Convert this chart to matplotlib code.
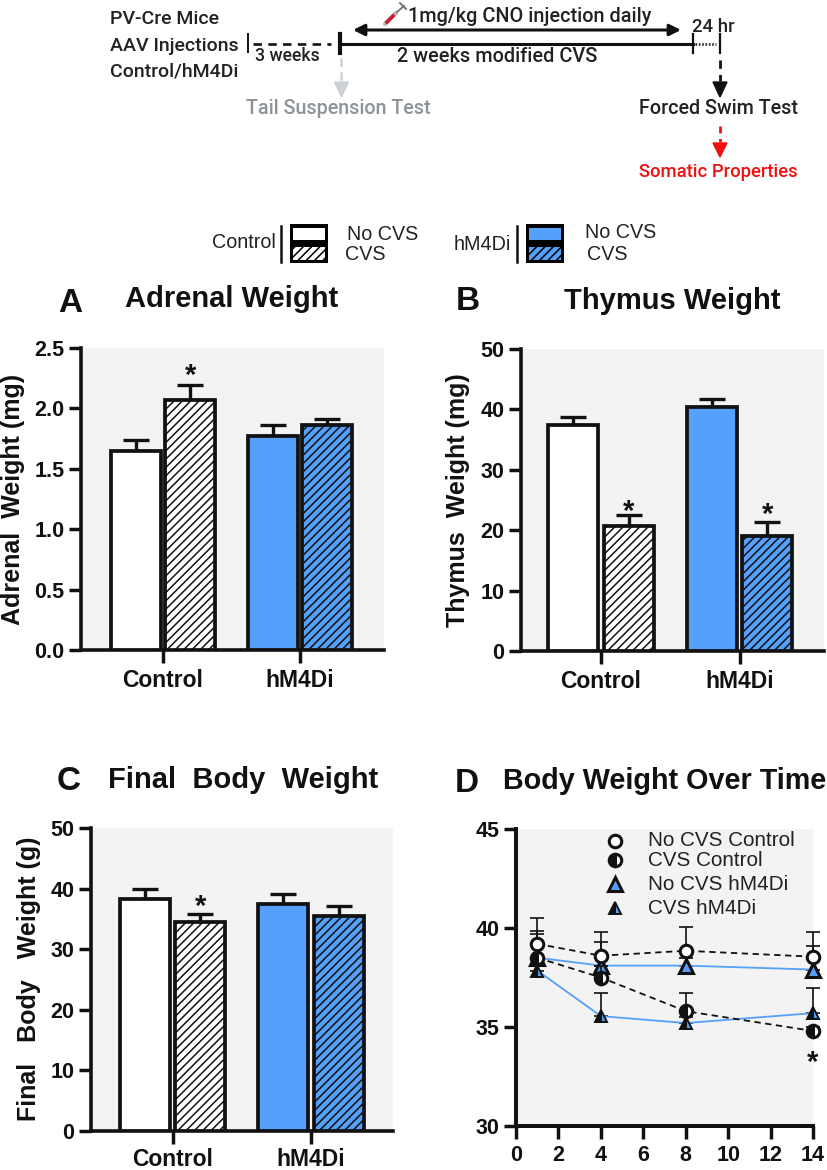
import matplotlib
matplotlib.use("Agg")
import matplotlib.pyplot as plt
from matplotlib.patches import Rectangle, Polygon

plt.rcParams['font.family'] = ['Liberation Sans', 'DejaVu Sans']
plt.rcParams['hatch.linewidth'] = 1.1

W, H = 828, 1170
BLUE = '#55A0FB'
BG = '#F3F3F3'
INK = '#111111'
HATCH = '////'

groups = ['Control', 'hM4Di']
adrenal_vals = [1.65, 2.07, 1.77, 1.86]
adrenal_err = [0.09, 0.12, 0.09, 0.05]
thymus_vals = [37.4, 20.7, 40.4, 19.0]
thymus_err = [1.4, 1.8, 1.3, 2.4]
final_vals = [38.3, 34.5, 37.5, 35.4]
final_err = [1.6, 1.3, 1.6, 1.65]

days = [1, 4, 8, 14]
nocvs_ctrl = [39.2, 38.6, 38.85, 38.55]
nocvs_ctrl_err = [1.3, 1.2, 1.2, 1.25]
cvs_ctrl = [38.5, 37.5, 35.8, 34.8]
cvs_ctrl_err = [1.35, 0.6, 0.9, 0.2]
nocvs_hm = [38.5, 38.1, 38.1, 37.9]
nocvs_hm_err = [1.2, 1.2, 0.4, 1.2]
cvs_hm = [37.85, 35.55, 35.2, 35.7]
cvs_hm_err = [0.3, 1.15, 0.3, 1.25]

fig = plt.figure(figsize=(W / 100, H / 100), dpi=100, facecolor='white')


def axpx(l, t, r, b):
    return fig.add_axes([l / W, 1 - b / H, (r - l) / W, (b - t) / H])


ov = fig.add_axes([0, 0, 1, 1], zorder=10)
ov.set_xlim(0, W)
ov.set_ylim(H, 0)
ov.axis('off')
ov.patch.set_alpha(0)


def style(ax):
    ax.set_facecolor(BG)
    for s in ('top', 'right'):
        ax.spines[s].set_visible(False)
    for s in ('left', 'bottom'):
        ax.spines[s].set_linewidth(2.6)
        ax.spines[s].set_color(INK)
    ax.tick_params(axis='both', length=9, width=2.5, color=INK, pad=3)
    for t in ax.get_xticklabels() + ax.get_yticklabels():
        t.set_fontweight('bold')
        t.set_fontsize(15.5)
        t.set_color(INK)


def bars(box, vals, errs, ymax, step, x0, dx, width, off, fmt, star_i, star_y, xpad):
    ax = axpx(*box)
    l, t, r, b = box
    ax.set_xlim((l - x0) / dx, (r - x0) / dx)
    ax.set_ylim(0, ymax)
    pos = [0 - off, 0 + off, 1 - off, 1 + off]
    faces = ['white', 'white', BLUE, BLUE]
    hatches = [None, HATCH, None, HATCH]
    for p, v, e, fc, h in zip(pos, vals, errs, faces, hatches):
        ax.bar(p, v, width, facecolor=fc, edgecolor=INK, linewidth=2.7, hatch=h, zorder=3)
        ax.errorbar(p, v, yerr=[[0], [e]], color=INK, elinewidth=2.4, capsize=9.5,
                    capthick=2.4, zorder=2, fmt='none')
    ax.set_xticks([0, 1])
    ax.set_xticklabels(groups)
    n = int(round(ymax / step)) + 1
    ax.set_yticks([i * step for i in range(n)])
    ax.set_yticklabels([fmt.format(i * step) for i in range(n)])
    style(ax)
    ax.tick_params(axis='x', pad=xpad)
    for t in ax.get_xticklabels():
        t.set_fontsize(16.5)
    for i, y in zip(star_i, star_y):
        ax.text(pos[i], y, '*', ha='center', va='center', fontsize=21, fontweight='bold', color=INK)
    return ax


bars((81, 348, 384, 650), adrenal_vals, adrenal_err, 2.5, 0.5, 163, 137, 0.365, 0.2, '{:.1f}', [1], [2.27], 4.5)
bars((521, 349, 824, 651), thymus_vals, thymus_err, 50, 10, 601, 138.5, 0.36, 0.2, '{:.0f}', [1, 3], [23.0, 22.5], 4.5)
bars((91, 828, 393, 1131), final_vals, final_err, 50, 10, 172.5, 138.5, 0.36, 0.2, '{:.0f}', [1], [37.0], 3.5)

# Panel D
axd = axpx(516, 829, 813, 1126)
axd.set_xlim(0, 14)
axd.set_ylim(30, 45)
axd.set_xticks(range(0, 15, 2))
axd.set_yticks([30, 35, 40, 45])
style(axd)
axd.tick_params(axis='x', pad=5)
for s in ('left', 'bottom'):
    axd.spines[s].set_linewidth(2.9)

series = [
    (nocvs_hm, nocvs_hm_err, '-', BLUE, '^', dict(markerfacecolor=BLUE, markeredgecolor=INK, ms=9.5, mew=2.2), 2),
    (cvs_hm, cvs_hm_err, '-', BLUE, '^', dict(markerfacecolor=BLUE, fillstyle='right', markerfacecoloralt=INK, markeredgecolor=INK, ms=9, mew=1.4), 3),
    (cvs_ctrl, cvs_ctrl_err, '--', INK, 'o', dict(markerfacecolor=INK, fillstyle='left', markerfacecoloralt='white', markeredgecolor=INK, ms=9, mew=2.2), 4),
    (nocvs_ctrl, nocvs_ctrl_err, '--', INK, 'o', dict(markerfacecolor='white', markeredgecolor=INK, ms=9, mew=2.2), 5),
]
for vals, errs, ls, c, m, kw, z in series:
    axd.errorbar(days, vals, yerr=[[0] * 4, errs], fmt='none', ecolor=INK, elinewidth=1.2,
                 capsize=5, capthick=1.2, zorder=z, clip_on=False)
    if ls == '--':
        axd.plot(days, vals, color=c, lw=1.3, zorder=z, clip_on=False, dashes=(3.5, 2.5))
    else:
        axd.plot(days, vals, color=c, lw=1.3, zorder=z, clip_on=False)
    axd.plot(days, vals, ls='none', marker=m, zorder=z + 0.5, clip_on=False, **kw)
axd.text(14, 33.2, '*', ha='center', va='center', fontsize=21, fontweight='bold', color=INK)

leg_y = [841, 860, 884, 908]
leg_labels = ['No CVS Control', 'CVS Control', 'No CVS hM4Di', 'CVS hM4Di']
leg_order = [3, 2, 0, 1]
for y, lab, i in zip(leg_y, leg_labels, leg_order):
    m, kw = series[i][4], series[i][5]
    ov.plot([615], [y], ls='none', marker=m, **kw)
    ov.text(648, y, lab, va='center', ha='left', fontsize=14.9, color='#222222')

# Titles and panel letters
title_kw = dict(fontweight='bold', color=INK, va='center', ha='center')
ov.text(232, 299, 'Adrenal Weight', fontsize=21, **title_kw)
ov.text(672, 301, 'Thymus Weight', fontsize=21, **title_kw)
ov.text(243, 780, 'Final  Body  Weight', fontsize=21, **title_kw)
ov.text(664.5, 781, 'Body Weight Over Time', fontsize=20.7, **title_kw)
for x, y, s in [(70, 303, 'A'), (468, 301, 'B'), (69, 782, 'C'), (467, 784, 'D')]:
    ov.text(x, y, s, fontsize=24, **title_kw)

# Y labels
yl = dict(fontweight='bold', color=INK, rotation=90, va='center', ha='center', fontsize=18)
ov.text(13, 499, 'Adrenal  Weight (mg)', **yl)
ov.text(458, 500, 'Thymus  Weight (mg)', **yl)
ov.text(29, 979, 'Final   Body   Weight (g)', **yl)

# Top legend
for x0, fc, name, tx, ty, nx, ny, cx in [(290, 'white', 'Control', 212, 242, 347, 235, 345),
                                         (526, BLUE, 'hM4Di', 454, 245, 585, 233, 587)]:
    ov.add_patch(Rectangle((x0, 224), 38, 39, facecolor='black', edgecolor='black', lw=0))
    ov.add_patch(Rectangle((x0 + 3, 228), 32, 12, facecolor=fc, edgecolor='none'))
    ov.add_patch(Rectangle((x0 + 3, 247), 32, 13, facecolor=fc, edgecolor='black', lw=0, hatch=HATCH))
    ov.plot([x0 - 9, x0 - 9], [226, 262], color=INK, lw=1.8)
    ov.text(tx, ty, name, va='center', ha='left', fontsize=14.2, color='#222222')
    ov.text(nx, ny, 'No CVS', va='center', ha='left', fontsize=14.2, color='#222222')
    ov.text(cx, 254, 'CVS', va='center', ha='left', fontsize=14.2, color='#222222')

# Timeline
rb = dict(family=['Roboto', 'DejaVu Sans'], fontweight=500, va='center', ha='left')
for y, s in [(19, 'PV-Cre Mice'), (46, 'AAV Injections'), (71, 'Control/hM4Di')]:
    ov.text(110, y, s, fontsize=14, color='#222222', **rb)
ov.plot([248, 248], [34, 52], color=INK, lw=1.4)
ov.plot([253, 331], [44, 44], color=INK, lw=1.9, dashes=(3.2, 2.4))
ov.plot([340, 340], [34, 53], color=INK, lw=3)
ov.plot([340, 693], [44, 44], color=INK, lw=2.2)
ov.plot([693, 693], [34, 53], color=INK, lw=1.6)
ov.plot([695, 716], [44, 44], color='#333333', lw=2, dashes=(0.6, 0.6))
ov.plot([720, 720], [34, 53], color=INK, lw=1.6)
ov.annotate('', xy=(353, 30), xytext=(681, 30),
            arrowprops=dict(arrowstyle='<|-|>', color=INK, lw=2.2, mutation_scale=17, shrinkA=0, shrinkB=0))
ov.text(408, 16, '1mg/kg CNO injection daily', fontsize=14.3, color='#222222', **rb)
ov.text(255, 56, '3 weeks', fontsize=12.7, color='#222222', **rb)
ov.text(397, 57, '2 weeks modified CVS', fontsize=14.3, color='#222222', **rb)
ov.text(692, 27, '24 hr', fontsize=13.4, color='#222222', **rb)

# syringe
ov.plot([385, 396], [24, 13], color='#B8B8B8', lw=3, solid_capstyle='round')
ov.plot([387, 393], [22, 16], color='#C8202A', lw=2.6)
ov.plot([397, 404], [12, 6], color='#777777', lw=1.4)
ov.plot([400, 406], [3, 9], color='#777777', lw=1.4)

# arrows down
ov.plot([341, 341], [58, 81], color='#D3D6DA', lw=2.0, dashes=(3, 2))
ov.add_patch(Polygon([[334.5, 82], [348.5, 82], [341.5, 97]], closed=True, color='#CDD1D5'))
ov.text(246, 109, 'Tail Suspension Test', fontsize=14.2, color='#8D9399', **rb)
ov.plot([720, 720], [60, 81], color=INK, lw=2.0, dashes=(3, 2.2))
ov.add_patch(Polygon([[713, 82], [727, 82], [720, 97]], closed=True, color=INK))
ov.text(639, 109, 'Forced Swim Test', fontsize=14.2, color='#222222', **rb)
ov.plot([720, 720], [126, 142], color='#F01010', lw=2.0, dashes=(2.5, 2))
ov.add_patch(Polygon([[713, 143], [727, 143], [720, 157]], closed=True, color='#F01010'))
ov.text(639, 172, 'Somatic Properties', fontsize=13.3, color='#F01010', **rb)

fig.savefig('out.png', dpi=100)
